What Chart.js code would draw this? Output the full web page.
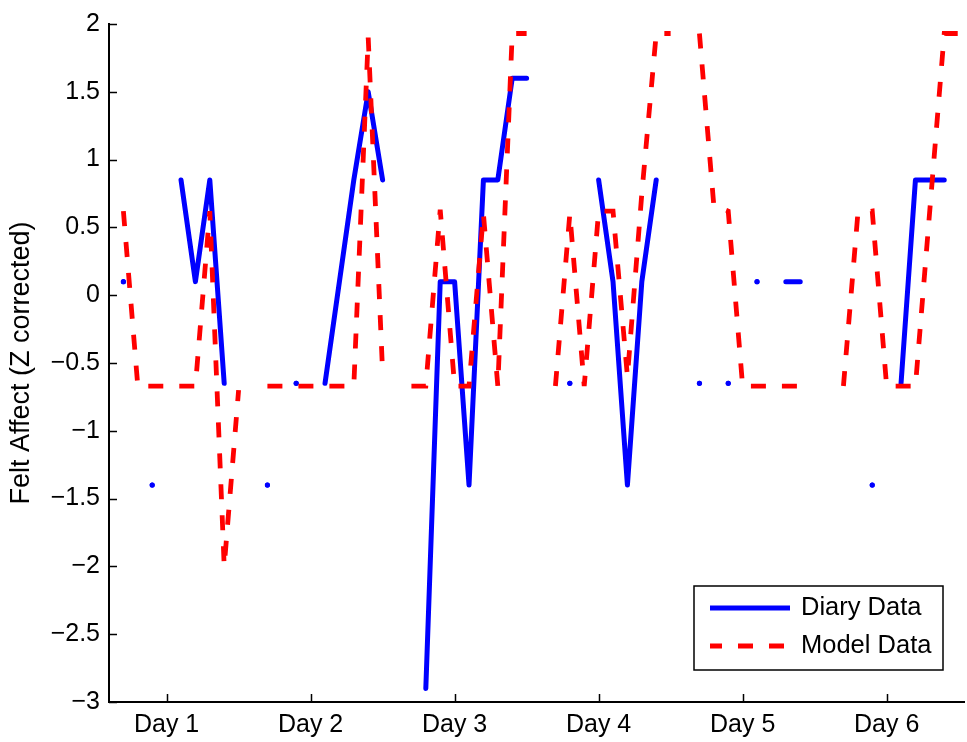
<!DOCTYPE html>
<html>
<head>
<meta charset="utf-8">
<script src="https://cdn.jsdelivr.net/npm/chart.js@4.4.1/dist/chart.umd.min.js"></script>
<style>
  body { margin: 0; background: #fff; }
  canvas { display: block; }
</style>
</head>
<body>
<canvas id="chart" width="967" height="742"></canvas>
<script>
// sample times (days), 0.1 day apart
var times = [0.7, 0.8, 0.9, 1.0, 1.1, 1.2, 1.3, 1.4, 1.5, 1.6,
             1.7, 1.8, 1.9, 2.0, 2.1, 2.2, 2.3, 2.4, 2.5, 2.6,
             2.7, 2.8, 2.9, 3.0, 3.1, 3.2, 3.3, 3.4, 3.5, 3.6,
             3.7, 3.8, 3.9, 4.0, 4.1, 4.2, 4.3, 4.4, 4.5, 4.6,
             4.7, 4.8, 4.9, 5.0, 5.1, 5.2, 5.3, 5.4, 5.5, 5.6,
             5.7, 5.8, 5.9, 6.0, 6.1, 6.2, 6.3, 6.4, 6.5];

// null = no entry (gap in the line)
var diaryData = [0.1, null, -1.4, null, 0.85, 0.1, 0.85, -0.65, null, null,
                 -1.4, null, -0.65, null, -0.65, 0.1, 0.85, 1.5, 0.85, null,
                 null, -2.9, 0.1, 0.1, -1.4, 0.85, 0.85, 1.6, 1.6, null,
                 null, -0.65, null, 0.85, 0.1, -1.4, 0.1, 0.85, null, null,
                 -0.65, null, -0.65, null, 0.1, null, 0.1, 0.1, null, null,
                 null, null, -1.4, null, -0.65, 0.85, 0.85, 0.85, null];

var modelData = [0.62, -0.67, -0.67, -0.67, -0.67, -0.67, 0.62, -2.0, -0.7, null,
                 -0.67, -0.67, -0.67, -0.67, -0.67, -0.67, -0.67, 1.9, -0.57, null,
                 -0.67, -0.67, 0.63, -0.67, -0.67, 0.6, -0.67, 1.93, 1.93, null,
                 -0.67, 0.6, -0.67, 0.62, 0.62, -0.6, 0.75, 1.93, 1.93, null,
                 1.93, 0.66, 0.62, -0.67, -0.67, -0.67, -0.67, -0.67, null, null,
                 -0.67, 0.6, 0.62, -0.67, -0.67, -0.67, 0.63, 1.93, 1.93];

var dayTicks = [1, 2, 3, 4, 5, 6];
var dayLabels = ["Day 1", "Day 2", "Day 3", "Day 4", "Day 5", "Day 6"];

var fontFamily = '"Liberation Sans", Arial, Helvetica, sans-serif';
Chart.defaults.font.family = fontFamily;
Chart.defaults.color = '#000';

function toPoints(values) {
    return times.map(function(t, i) {
        return { x: t, y: values[i] };
    });
}

// a lone value between two gaps shows up as a dot
function loneDot(ctx) {
    var d = ctx.dataset.data;
    var i = ctx.dataIndex;
    var prev = i > 0 ? d[i - 1].y : null;
    var next = i < d.length - 1 ? d[i + 1].y : null;
    if (d[i].y != null && prev == null && next == null) return 2.6;
    return 0;
}

// MATLAB style ticks pointing into the plot
var inwardTicks = {
    id: 'inwardTicks',
    beforeDatasetsDraw: function(chart) {
        var ctx = chart.ctx, a = chart.chartArea;
        var xs = chart.scales.x, ys = chart.scales.y;
        ctx.save();
        ctx.strokeStyle = '#000';
        ctx.lineWidth = 1.5;
        ctx.beginPath();
        xs.ticks.forEach(function(t) {
            var px = Math.round(xs.getPixelForValue(t.value)) + 0.5;
            ctx.moveTo(px, a.bottom);
            ctx.lineTo(px, a.bottom - 8);
        });
        ys.ticks.forEach(function(t) {
            var py = Math.round(ys.getPixelForValue(t.value)) + 0.5;
            ctx.moveTo(a.left, py);
            ctx.lineTo(a.left + 8, py);
        });
        ctx.stroke();
        ctx.restore();
    }
};

// boxed legend inside the lower right corner
var boxLegend = {
    id: 'boxLegend',
    afterDraw: function(chart) {
        var ctx = chart.ctx, a = chart.chartArea;
        var w = 249, h = 84;
        var x0 = 694, y0 = a.bottom - 32 - h;
        ctx.save();
        ctx.fillStyle = '#fff';
        ctx.fillRect(x0, y0, w, h);
        ctx.strokeStyle = '#000';
        ctx.lineWidth = 1.5;
        ctx.strokeRect(x0, y0, w, h);
        chart.data.datasets.forEach(function(ds, i) {
            var cy = y0 + 22 + i * 38;
            ctx.beginPath();
            ctx.strokeStyle = ds.borderColor;
            ctx.lineWidth = ds.borderWidth;
            ctx.lineCap = 'butt';
            ctx.setLineDash(ds.borderDash || []);
            ctx.lineDashOffset = 3;
            ctx.moveTo(x0 + 16, cy);
            ctx.lineTo(x0 + 96, cy);
            ctx.stroke();
            ctx.setLineDash([]);
            ctx.fillStyle = '#000';
            ctx.font = '25.5px ' + fontFamily;
            ctx.textBaseline = 'middle';
            ctx.textAlign = 'left';
            ctx.fillText(ds.label, x0 + 107, cy);
        });
        ctx.restore();
    }
};

var config = {
    type: 'line',
    data: {
        datasets: [{
            label: 'Diary Data',
            data: toPoints(diaryData),
            borderColor: '#0000ff',
            backgroundColor: '#0000ff',
            borderWidth: 5,
            borderCapStyle: 'round',
            borderJoinStyle: 'round',
            pointRadius: loneDot,
            pointBorderWidth: 0,
            pointHoverRadius: 0,
            tension: 0,
            order: 2
        }, {
            label: 'Model Data',
            data: toPoints(modelData),
            borderColor: '#ff0000',
            backgroundColor: '#ff0000',
            borderWidth: 4.8,
            borderDash: [15, 16],
            borderCapStyle: 'butt',
            borderJoinStyle: 'miter',
            pointRadius: 0,
            pointHoverRadius: 0,
            tension: 0,
            order: 1
        }]
    },
    options: {
        responsive: false,
        animation: false,
        spanGaps: false,
        layout: { padding: { top: 19, right: 0, bottom: 0, left: 0 } },
        plugins: {
            legend: { display: false },
            tooltip: { enabled: false }
        },
        scales: {
            x: {
                type: 'linear',
                min: 0.6,
                max: 6.54,
                grid: { display: false, drawTicks: false },
                border: { display: true, color: '#000', width: 2 },
                afterBuildTicks: function(scale) {
                    scale.ticks = dayTicks.map(function(v) { return { value: v }; });
                },
                afterFit: function(scale) { scale.height = 40; },
                ticks: {
                    padding: 8,
                    maxRotation: 0,
                    font: { size: 25 },
                    callback: function(value) {
                        return dayLabels[dayTicks.indexOf(value)];
                    }
                }
            },
            y: {
                type: 'linear',
                min: -3,
                max: 2,
                grid: { display: false, drawTicks: false },
                border: { display: true, color: '#000', width: 2 },
                afterFit: function(scale) { scale.width = 109; },
                ticks: {
                    stepSize: 0.5,
                    padding: 9,
                    font: { size: 25 },
                    callback: function(value) {
                        return String(value).replace('-', '\u2212');
                    }
                },
                title: {
                    display: true,
                    text: 'Felt Affect (Z corrected)',
                    font: { size: 27 },
                    padding: { top: 5, bottom: 0 }
                }
            }
        }
    },
    plugins: [inwardTicks, boxLegend]
};

window.onload = function() {
    var ctx = document.getElementById('chart').getContext('2d');
    window.myChart = new Chart(ctx, config);
};
</script>
</body>
</html>
